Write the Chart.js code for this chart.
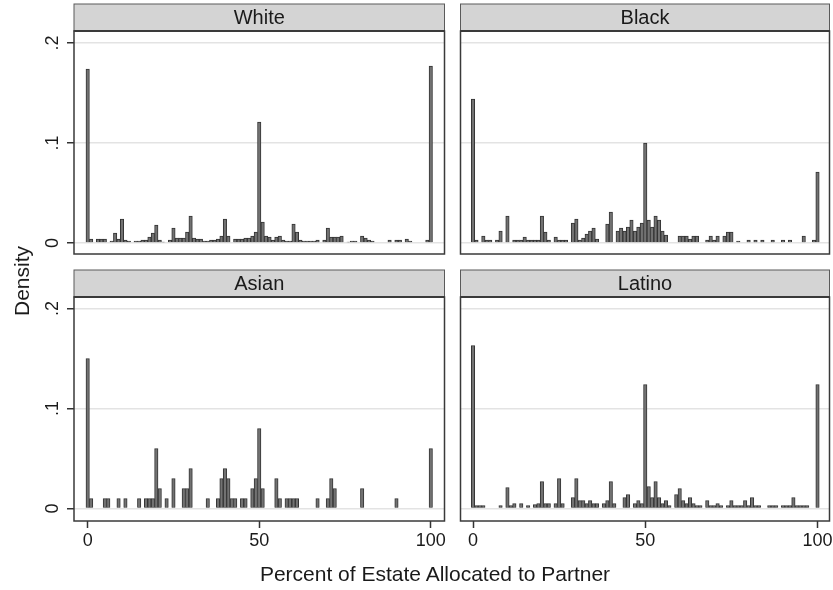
<!DOCTYPE html>
<html>
<head>
<meta charset="utf-8">
<script src="https://cdn.jsdelivr.net/npm/chart.js@4.4.1/dist/chart.umd.min.js"></script>
<style>
  html, body { margin: 0; padding: 0; background: #fff; }
  #wrap { position: relative; width: 833px; height: 590px; overflow: hidden;
          font-family: Arial, "Liberation Sans", sans-serif; color: #1a1a1a; }
  #wrap canvas { position: absolute; }
  #ytitle { position: absolute; left: 22px; top: 281px; transform: translate(-50%, -50%) rotate(-90deg);
            font-size: 21px; white-space: nowrap; }
  #xtitle { position: absolute; left: 435px; top: 574px; transform: translate(-50%, -50%);
            font-size: 21px; white-space: nowrap; }
</style>
</head>
<body>
<div id="wrap">
  <canvas id="pWhite"  width="452" height="262" style="left:0;top:0"></canvas>
  <canvas id="pBlack"  width="381" height="262" style="left:452px;top:0"></canvas>
  <canvas id="pAsian"  width="452" height="328" style="left:0;top:262px"></canvas>
  <canvas id="pLatino" width="381" height="328" style="left:452px;top:262px"></canvas>
  <div id="ytitle">Density</div>
  <div id="xtitle">Percent of Estate Allocated to Partner</div>
</div>
<script>
// Percent of estate left to partner (discrete bins) and histogram density, by group
const whitePct = [0,1,3,4,5,7,8,9,10,11,12,14,15,16,17,18,19,20,21,22,24,25,26,27,28,29,30,31,32,33,34,35,36,37,38,39,40,41,43,44,45,46,47,48,49,50,51,52,53,54,55,56,57,58,59,60,61,62,63,64,65,66,67,69,70,71,72,73,74,76,77,78,80,81,82,83,88,90,91,93,94,99,100];
const whiteDensity = [.174,.004,.004,.004,.004,.002,.010,.004,.024,.003,.002,.002,.002,.003,.003,.006,.010,.018,.003,.001,.003,.015,.005,.005,.005,.011,.027,.005,.004,.004,.002,.002,.003,.003,.004,.007,.024,.007,.004,.004,.004,.005,.005,.007,.011,.121,.021,.007,.006,.003,.006,.007,.003,.002,.002,.019,.011,.003,.002,.002,.002,.002,.003,.003,.015,.006,.006,.006,.007,.001,.002,.002,.007,.005,.003,.002,.003,.003,.003,.004,.002,.003,.177];

const blackPct = [0,1,3,4,5,7,8,10,12,13,14,15,16,17,18,19,20,21,22,24,25,26,27,29,30,31,32,33,34,35,36,39,40,42,43,44,45,46,47,48,49,50,51,52,53,54,55,56,60,61,62,63,64,65,68,69,70,71,73,74,75,77,80,82,84,87,90,92,96,99,100];
const blackDensity = [.144,.003,.007,.003,.003,.003,.012,.027,.003,.003,.003,.006,.003,.003,.003,.003,.027,.011,.003,.006,.003,.003,.003,.020,.024,.003,.005,.009,.012,.015,.004,.019,.031,.012,.015,.012,.016,.023,.012,.016,.020,.100,.023,.016,.027,.023,.012,.008,.007,.007,.007,.004,.007,.007,.003,.007,.003,.007,.007,.011,.011,.002,.003,.003,.003,.003,.003,.003,.007,.003,.071];

const asianPct = [0,1,5,6,9,11,15,17,18,19,20,21,23,25,28,29,30,35,38,39,40,41,42,43,45,46,48,49,50,51,55,56,58,59,60,61,67,70,71,72,80,90,100];
const asianDensity = [.15,.01,.01,.01,.01,.01,.01,.01,.01,.01,.06,.02,.01,.03,.02,.02,.04,.01,.01,.03,.04,.03,.01,.01,.01,.01,.02,.03,.08,.02,.03,.01,.01,.01,.01,.01,.01,.01,.03,.02,.02,.01,.06];

const latinoPct = [0,1,2,3,8,10,11,12,14,16,18,19,20,21,22,24,25,26,29,30,31,32,33,34,35,36,38,39,40,41,44,45,47,48,49,50,51,52,53,54,55,56,57,59,60,61,62,63,64,65,66,68,69,70,71,72,74,75,76,77,78,79,80,81,82,83,86,87,88,90,91,92,93,94,95,96,97,100];
const latinoDensity = [.163,.003,.003,.003,.003,.021,.003,.005,.005,.003,.004,.005,.027,.005,.005,.005,.030,.005,.011,.030,.008,.008,.005,.008,.005,.005,.005,.008,.027,.005,.011,.014,.005,.008,.005,.124,.022,.011,.027,.011,.005,.008,.003,.014,.020,.008,.005,.011,.005,.003,.003,.008,.003,.003,.005,.003,.003,.008,.003,.003,.003,.008,.003,.011,.003,.003,.003,.003,.003,.003,.003,.003,.011,.003,.003,.003,.003,.124];

// Axis ticks
const xTickValues = [0, 50, 100];
const xTickLabels = ['0', '50', '100'];
const yTickValues = [0, 0.1, 0.2];
const yTickLabels = ['0', '.1', '.2'];

const FONT = 'Arial, "Liberation Sans", sans-serif';
const INK = '#1a1a1a';

// Grey title strip above each plot region, and the box around the plot region
const panelDecor = {
  id: 'panelDecor',
  beforeDraw(chart) {
    const { ctx, chartArea: a } = chart;
    const tb = chart.titleBlock;
    ctx.save();
    ctx.fillStyle = '#d4d4d4';
    ctx.fillRect(a.left, tb.top, a.right - a.left, a.top - tb.top);
    ctx.strokeStyle = '#5a5a5a';
    ctx.lineWidth = 1;
    ctx.strokeRect(a.left, tb.top, a.right - a.left, a.top - tb.top);
    ctx.restore();
  },
  afterDraw(chart) {
    const { ctx, chartArea: a } = chart;
    ctx.save();
    ctx.strokeStyle = '#3a3a3a';
    ctx.lineWidth = 1.5;
    ctx.strokeRect(a.left, a.top, a.right - a.left, a.bottom - a.top);
    ctx.lineWidth = 2;
    ctx.beginPath();
    ctx.moveTo(a.left, a.top);
    ctx.lineTo(a.right, a.top);
    ctx.stroke();
    ctx.restore();
  }
};

// Axis boxes keep a fixed size and reserve no room for overhanging labels
function fixBox(s, w, h) {
  if (w !== null) s.width = w;
  if (h !== null) s.height = h;
  s.paddingTop = 0; s.paddingBottom = 0; s.paddingLeft = 0; s.paddingRight = 0;
}

function makePanel(id, title, pct, dens, o) {
  const points = pct.map((p, i) => ({ x: p, y: dens[i] }));
  return new Chart(document.getElementById(id), {
    type: 'bar',
    data: {
      datasets: [{
        data: points,
        backgroundColor: '#727272',
        borderColor: '#333333',
        borderWidth: 1,
        borderSkipped: 'bottom',
        barPercentage: 1,
        categoryPercentage: 1
      }]
    },
    options: {
      responsive: false,
      animation: false,
      layout: { padding: o.padding },
      plugins: {
        legend: { display: false },
        tooltip: { enabled: false },
        title: {
          display: true,
          text: title,
          fullSize: false,
          color: INK,
          font: { family: FONT, size: 20, weight: 'normal', lineHeight: 1.2 },
          padding: { top: 2, bottom: 1 }
        }
      },
      scales: {
        x: {
          type: 'linear',
          min: o.xMin,
          max: o.xMax,
          offset: false,
          display: o.showX,
          border: { display: false },
          grid: { offset: false, drawOnChartArea: false, drawTicks: true, tickLength: 7, tickColor: '#333', tickWidth: 1.5 },
          afterBuildTicks: s => { s.ticks = xTickValues.map(v => ({ value: v })); },
          afterFit: s => fixBox(s, null, o.xAxisHeight),
          ticks: {
            autoSkip: false, maxRotation: 0, padding: 2, color: INK,
            font: { family: FONT, size: 18 },
            callback: v => xTickLabels[xTickValues.indexOf(v)]
          }
        },
        y: {
          type: 'linear',
          min: o.yMin,
          max: o.yMax,
          border: { display: false },
          grid: { offset: false, color: '#e3e3e3', lineWidth: 1.5, drawTicks: o.showY, tickLength: 7, tickColor: '#333', tickWidth: 1.5 },
          afterBuildTicks: s => { s.ticks = yTickValues.map(v => ({ value: v })); },
          afterFit: s => fixBox(s, o.yAxisWidth, null),
          ticks: {
            display: o.showY,
            minRotation: 90, maxRotation: 90,
            crossAlign: 'center',
            padding: 6, color: INK,
            font: { family: FONT, size: 18 },
            callback: v => yTickLabels[yTickValues.indexOf(v)]
          }
        }
      }
    },
    plugins: [panelDecor]
  });
}

const leftX  = { xMin: -3.99, xMax: 104.0 };
const rightX = { xMin: -3.63, xMax: 103.48 };
const topY    = { yMin: -0.011, yMax: 0.212 };
const bottomY = { yMin: -0.0125, yMax: 0.2115 };

makePanel('pWhite', 'White', whitePct, whiteDensity, Object.assign({
  padding: { top: 4, left: 0, right: 7.5, bottom: 8 }, showX: false, showY: true, yAxisWidth: 74, xAxisHeight: 0
}, leftX, topY));

makePanel('pBlack', 'Black', blackPct, blackDensity, Object.assign({
  padding: { top: 4, left: 0, right: 3.5, bottom: 8 }, showX: false, showY: false, yAxisWidth: 8.5, xAxisHeight: 0
}, rightX, topY));

makePanel('pAsian', 'Asian', asianPct, asianDensity, Object.assign({
  padding: { top: 8, left: 0, right: 7.5, bottom: 0 }, showX: true, showY: true, yAxisWidth: 74, xAxisHeight: 69
}, leftX, bottomY));

makePanel('pLatino', 'Latino', latinoPct, latinoDensity, Object.assign({
  padding: { top: 8, left: 0, right: 3.5, bottom: 0 }, showX: true, showY: false, yAxisWidth: 8.5, xAxisHeight: 69
}, rightX, bottomY));
</script>
</body>
</html>
